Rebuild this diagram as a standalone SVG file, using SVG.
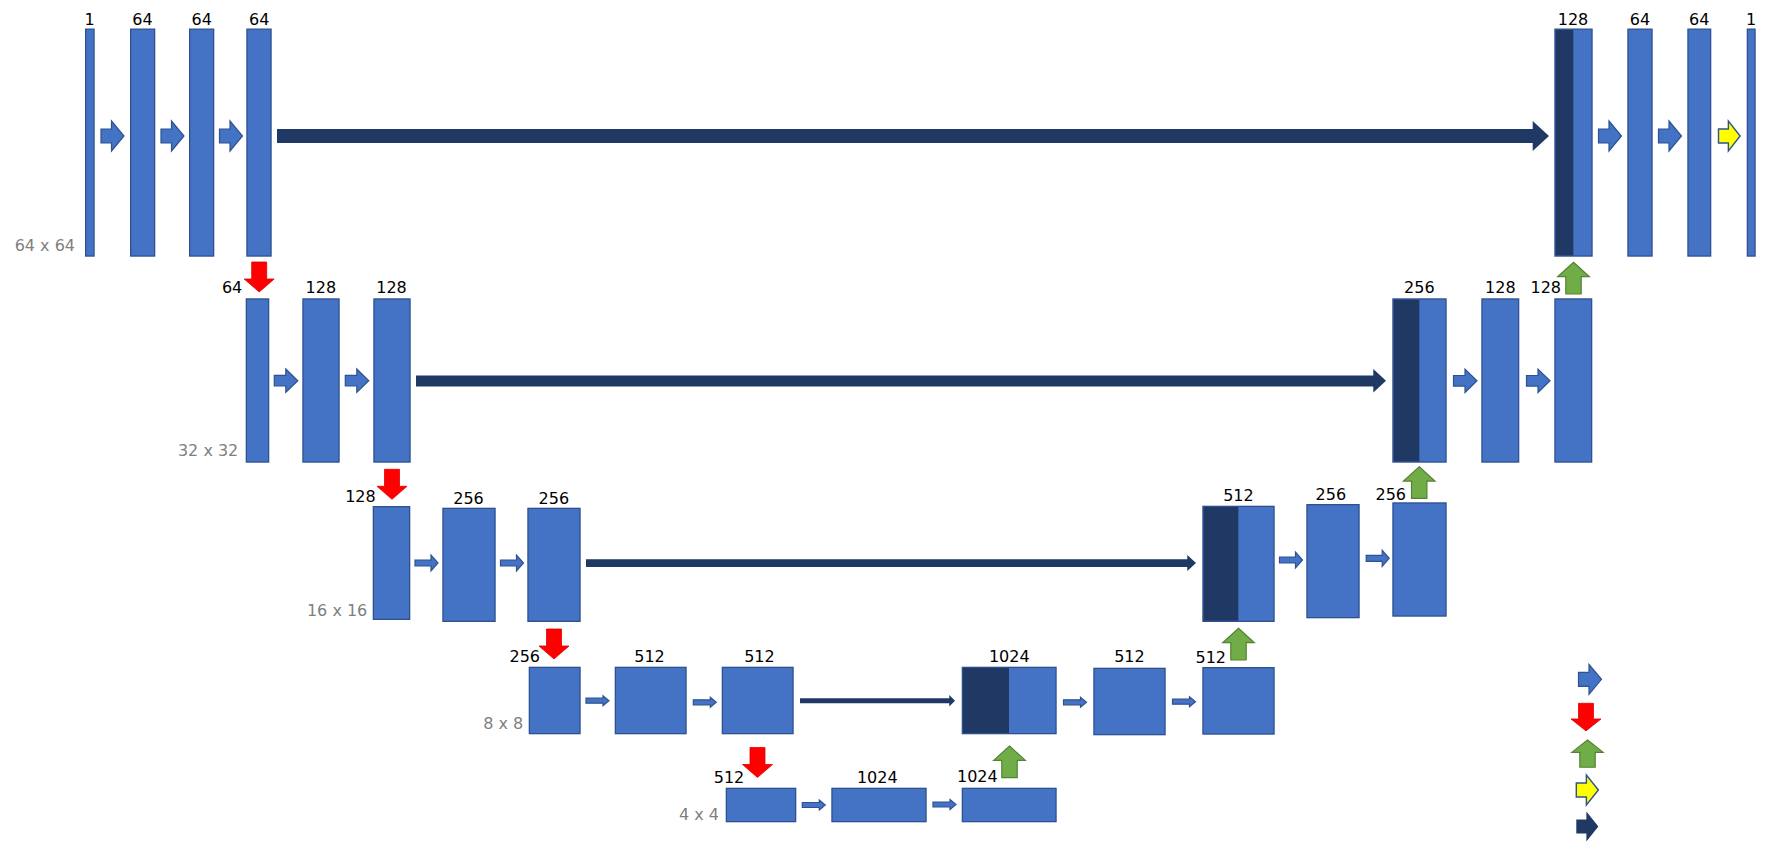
<svg xmlns="http://www.w3.org/2000/svg" xmlns:xlink="http://www.w3.org/1999/xlink" width="1783" height="842" viewBox="0 0 1783 842">
<style>
.box{fill:#4472C4;stroke:#2F528F;stroke-width:1.3}
.dark{fill:#203864;stroke:none}
.lbl{font-family:"DejaVu Sans",sans-serif;font-size:16px;fill:#000}
.dim{font-family:"DejaVu Sans",sans-serif;font-size:16px;fill:#7F7F7F;text-anchor:end}
.m{text-anchor:middle}
.e{text-anchor:end}
.conv{fill:#4472C4;stroke:#2F528F;stroke-width:1.2}
.pool{fill:#FF0000;stroke:#E00000;stroke-width:0.8}
.up{fill:#70AD47;stroke:#548235;stroke-width:1.2}
.out{fill:#FFFF00;stroke:#2F528F;stroke-width:1.5}
.skip{fill:#203864;stroke:none}
</style>
<defs>
<path id="aL1" d="M0,-7 H10.5 V-15 L23,0 L10.5,15 V7 H0 Z"/>
<path id="aL2" d="M0,-5.3 H11.5 V-11.7 L23.5,0 L11.5,11.7 V5.3 H0 Z"/>
<path id="aL3" d="M0,-3 H16 V-8 L23,0 L16,8 V3 H0 Z"/>
<path id="aL4" d="M0,-2.5 H17 V-5 L23,0 L17,5 V2.5 H0 Z"/>
<path id="aDown" d="M-7.5,0 H7.5 V17 H15 L0,30 L-15,17 H-7.5 Z"/>
<path id="aUp" d="M0,0 L15.8,14.4 H7.7 V31.7 H-7.7 V14.4 H-15.8 Z"/>
</defs>

<!-- Level 1 (64 x 64) -->
<g id="n-l1-in"><rect class="box" x="85.65" y="29.15" width="8.4" height="226.9"/><text class="lbl m" x="89.5" y="25">1</text></g>
<g id="n-l1-c1"><rect class="box" x="130.65" y="29.15" width="24" height="226.9"/><text class="lbl m" x="142.5" y="25">64</text></g>
<g id="n-l1-c2"><rect class="box" x="189.65" y="29.15" width="24" height="226.9"/><text class="lbl m" x="201.7" y="25">64</text></g>
<g id="n-l1-c3"><rect class="box" x="246.95" y="29.15" width="24.1" height="226.9"/><text class="lbl m" x="259.2" y="25">64</text></g>
<g id="n-l1-cat"><rect class="box" x="1554.95" y="29.15" width="37.1" height="226.9"/><rect class="dark" x="1555.6" y="29.8" width="17.7" height="225.6"/><text class="lbl m" x="1573" y="25">128</text></g>
<g id="n-l1-d1"><rect class="box" x="1627.95" y="29.15" width="24.1" height="226.9"/><text class="lbl m" x="1640" y="25">64</text></g>
<g id="n-l1-d2"><rect class="box" x="1687.95" y="29.15" width="22.7" height="226.9"/><text class="lbl m" x="1699.3" y="25">64</text></g>
<g id="n-l1-out"><rect class="box" x="1747.35" y="29.15" width="7.7" height="226.9"/><text class="lbl m" x="1751.2" y="25">1</text></g>
<text class="dim" x="75" y="251">64 x 64</text>

<!-- Level 2 (32 x 32) -->
<g id="n-l2-p"><rect class="box" x="246.35" y="298.95" width="22.3" height="163.1"/><text class="lbl e" x="242.3" y="293.3">64</text></g>
<g id="n-l2-c1"><rect class="box" x="302.95" y="298.95" width="36.1" height="163.1"/><text class="lbl m" x="320.8" y="293.3">128</text></g>
<g id="n-l2-c2"><rect class="box" x="373.95" y="298.95" width="36.1" height="163.1"/><text class="lbl m" x="391.5" y="293.3">128</text></g>
<g id="n-l2-cat"><rect class="box" x="1392.95" y="298.95" width="53.1" height="163.1"/><rect class="dark" x="1393.6" y="299.6" width="25.7" height="161.8"/><text class="lbl m" x="1419.3" y="293.3">256</text></g>
<g id="n-l2-d1"><rect class="box" x="1481.95" y="298.95" width="36.7" height="163.1"/><text class="lbl m" x="1500.3" y="293.3">128</text></g>
<g id="n-l2-d2"><rect class="box" x="1554.95" y="298.95" width="36.7" height="163.1"/><text class="lbl e" x="1561" y="293.3">128</text></g>
<text class="dim" x="238.3" y="456">32 x 32</text>

<!-- Level 3 (16 x 16) -->
<g id="n-l3-p"><rect class="box" x="373.35" y="506.65" width="36.3" height="112.7"/><text class="lbl e" x="375.7" y="502.3">128</text></g>
<g id="n-l3-c1"><rect class="box" x="442.95" y="508.35" width="52.1" height="113"/><text class="lbl m" x="468.5" y="504">256</text></g>
<g id="n-l3-c2"><rect class="box" x="527.95" y="508.35" width="52.1" height="113"/><text class="lbl m" x="553.8" y="504">256</text></g>
<g id="n-l3-cat"><rect class="box" x="1202.95" y="506.35" width="71.1" height="115"/><rect class="dark" x="1203.6" y="507" width="34.7" height="113.7"/><text class="lbl m" x="1238.4" y="500.7">512</text></g>
<g id="n-l3-d1"><rect class="box" x="1306.95" y="504.65" width="52.1" height="113"/><text class="lbl m" x="1330.8" y="500">256</text></g>
<g id="n-l3-d2"><rect class="box" x="1392.95" y="502.95" width="53.1" height="113.1"/><text class="lbl e" x="1406" y="500">256</text></g>
<text class="dim" x="367.3" y="616">16 x 16</text>

<!-- Level 4 (8 x 8) -->
<g id="n-l4-p"><rect class="box" x="529.35" y="667.35" width="50.7" height="66.3"/><text class="lbl e" x="540" y="661.7">256</text></g>
<g id="n-l4-c1"><rect class="box" x="615.35" y="667.35" width="70.7" height="66.3"/><text class="lbl m" x="649.5" y="662">512</text></g>
<g id="n-l4-c2"><rect class="box" x="722.35" y="667.35" width="70.7" height="66.3"/><text class="lbl m" x="759.4" y="662">512</text></g>
<g id="n-l4-cat"><rect class="box" x="962.35" y="667.35" width="93.7" height="66.3"/><rect class="dark" x="963" y="668" width="46" height="65"/><text class="lbl m" x="1009.3" y="661.7">1024</text></g>
<g id="n-l4-d1"><rect class="box" x="1093.95" y="668.35" width="71.1" height="66.3"/><text class="lbl m" x="1129.4" y="662">512</text></g>
<g id="n-l4-d2"><rect class="box" x="1202.95" y="667.65" width="71.1" height="66.4"/><text class="lbl e" x="1226" y="662.7">512</text></g>
<text class="dim" x="523.3" y="729.3">8 x 8</text>

<!-- Level 5 (4 x 4) -->
<g id="n-l5-p"><rect class="box" x="726.35" y="788.35" width="69.3" height="33.3"/><text class="lbl e" x="744.3" y="782.7">512</text></g>
<g id="n-l5-c1"><rect class="box" x="831.95" y="788.35" width="94.1" height="33.3"/><text class="lbl m" x="877.3" y="783.3">1024</text></g>
<g id="n-l5-c2"><rect class="box" x="962.35" y="788.35" width="93.7" height="33.3"/><text class="lbl e" x="997.7" y="781.7">1024</text></g>
<text class="dim" x="719" y="820">4 x 4</text>

<!-- Connectors -->
<g id="connectors">
<!-- conv arrows -->
<use href="#aL1" class="conv" x="101" y="136"/>
<use href="#aL1" class="conv" x="161" y="136"/>
<use href="#aL1" class="conv" x="219.5" y="136"/>
<use href="#aL1" class="conv" x="1598.5" y="136"/>
<use href="#aL1" class="conv" x="1658.5" y="136"/>
<use href="#aL1" class="out" x="1718.5" y="136" transform="translate(1718.5 0) scale(0.94 1) translate(-1718.5 0)"/>
<use href="#aL2" class="conv" x="274.3" y="380.7"/>
<use href="#aL2" class="conv" x="345.3" y="380.7"/>
<use href="#aL2" class="conv" x="1453.5" y="380.8"/>
<use href="#aL2" class="conv" x="1526.5" y="380.8"/>
<use href="#aL3" class="conv" x="415" y="563"/>
<use href="#aL3" class="conv" x="500.5" y="563"/>
<use href="#aL3" class="conv" x="1279.5" y="560"/>
<use href="#aL3" class="conv" x="1366.2" y="558.3"/>
<use href="#aL4" class="conv" x="586" y="700.7"/>
<use href="#aL4" class="conv" x="693.3" y="702.3"/>
<use href="#aL4" class="conv" x="1063.5" y="702.3"/>
<use href="#aL4" class="conv" x="1172.5" y="701.7"/>
<use href="#aL4" class="conv" x="802.3" y="805"/>
<use href="#aL4" class="conv" x="933" y="804.5"/>
<!-- skip connections -->
<path class="skip" d="M277,129 H1532.7 V121 L1549,136 L1532.7,151 V143 H277 Z"/>
<path class="skip" d="M416,375.4 H1373.3 V369 L1386,380.8 L1373.3,392.6 V386.6 H416 Z"/>
<path class="skip" d="M586,559.3 H1187.3 V555 L1196,563 L1187.3,571 V566.9 H586 Z"/>
<path class="skip" d="M800,698.3 H949.3 V695 L955,700.7 L949.3,706.4 V703.2 H800 Z"/>
<!-- max pool -->
<use href="#aDown" class="pool" x="259.2" y="262"/>
<use href="#aDown" class="pool" x="392" y="469.3"/>
<use href="#aDown" class="pool" x="554" y="629"/>
<use href="#aDown" class="pool" x="757.5" y="747.5"/>
<!-- up-conv -->
<use href="#aUp" class="up" x="1573.5" y="262.3"/>
<use href="#aUp" class="up" x="1419.2" y="466.7"/>
<use href="#aUp" class="up" x="1238.5" y="628.3"/>
<use href="#aUp" class="up" x="1009.5" y="746"/>
</g>

<!-- Legend -->
<g id="legend">
<use href="#aL1" class="conv" x="1578.5" y="679.3"/>
<use href="#aDown" class="pool" transform="translate(1586 703.3) scale(1 0.92)"/>
<use href="#aUp" class="up" transform="translate(1587.5 740) scale(1 0.86)"/>
<use href="#aL1" class="out" transform="translate(1576.3 790) scale(0.96 1)"/>
<use href="#aL1" class="skip" transform="translate(1576.3 826.5) scale(0.96 1)"/>
</g>
</svg>
